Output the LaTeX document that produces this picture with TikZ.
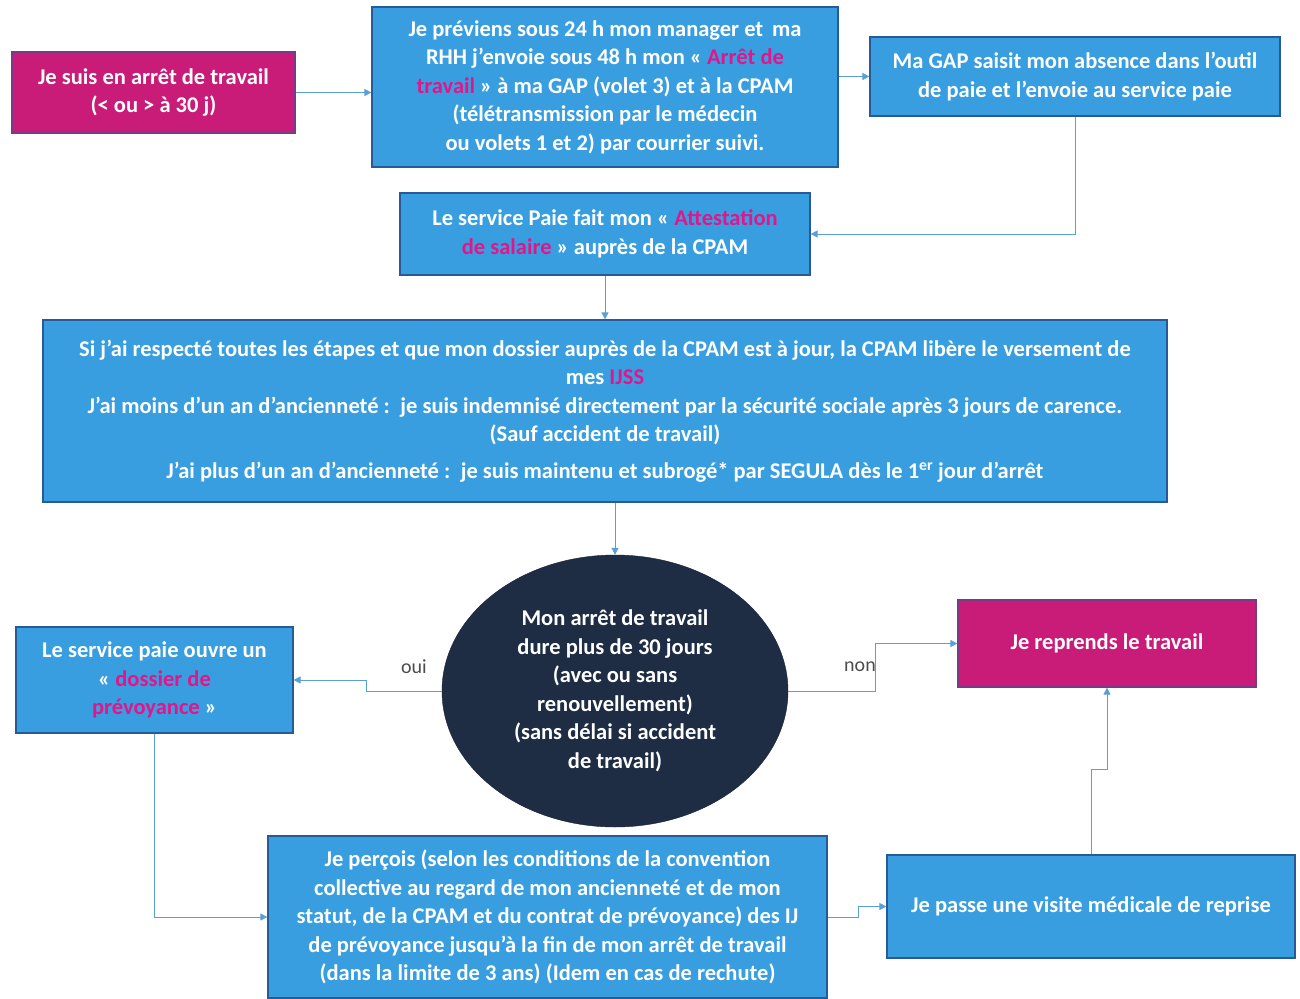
\documentclass[tikz,border=0pt]{standalone}
\usepackage{fontspec}
\setmainfont{Carlito}
\usetikzlibrary{shapes.geometric,arrows.meta}
\definecolor{bfill}{RGB}{56,158,224}
\definecolor{bdraw}{RGB}{40,90,150}
\definecolor{mfill}{RGB}{200,28,120}
\definecolor{pinktxt}{RGB}{226,22,140}
\definecolor{navy}{RGB}{30,44,68}
\definecolor{connc}{RGB}{90,160,215}
\begin{document}
\begin{tikzpicture}[x=1pt,y=-1pt,
 bluebox/.style={draw=bdraw, line width=1.2pt, fill=bfill, text=white, align=center, inner sep=0pt, font=\bfseries\fontsize{22.5}{28.5}\selectfont},
 magbox/.style={bluebox, fill=mfill, draw=bdraw!50!mfill},
 conn/.style={draw=connc, line width=1pt, -{Triangle[length=7pt,width=7pt]}},
 lbl/.style={text=black!70, font=\fontsize{20}{24}\selectfont}]
\useasboundingbox[fill=white] (0,0) rectangle (1300,998);

\node[magbox, minimum width=283pt, minimum height=81pt] (b1) at (153.5,92.5)
 {Je suis en arrêt de travail\\(< ou > à 30 j)};
\node[bluebox, minimum width=466pt, minimum height=160pt] (b2) at (605,87)
 {Je préviens sous 24 h mon manager et\, ma\\RHH j’envoie sous 48 h mon « \textcolor{pinktxt}{Arrêt de}\\\textcolor{pinktxt}{travail} » à ma GAP (volet 3) et à la CPAM\\(télétransmission par le médecin\\ou volets 1 et 2) par courrier suivi.};
\node[bluebox, minimum width=410pt, minimum height=79pt] (b3) at (1075,76.5)
 {Ma GAP saisit mon absence dans l’outil\\de paie et l’envoie au service paie};
\node[bluebox, minimum width=410pt, minimum height=82pt] (b4) at (605,234)
 {Le service Paie fait mon « \textcolor{pinktxt}{Attestation}\\\textcolor{pinktxt}{de salaire} » auprès de la CPAM};
\node[bluebox, minimum width=1124pt, minimum height=182pt] (b5) at (605,411)
 {Si j’ai respecté toutes les étapes et que mon dossier auprès de la CPAM est à jour, la CPAM libère le versement de\\mes \textcolor{pinktxt}{IJSS}\\J’ai moins d’un an d’ancienneté :\, je suis indemnisé directement par la sécurité sociale après 3 jours de carence.\\(Sauf accident de travail)\\[8pt]J’ai plus d’un an d’ancienneté :\, je suis maintenu et subrogé* par SEGULA dès le 1\textsuperscript{er} jour d’arrêt};

\node[ellipse, fill=navy, draw=navy!80!black, text=white, align=center, inner sep=0pt, minimum width=346pt, minimum height=272pt, font=\bfseries\fontsize{22.5}{28.5}\selectfont] (ell) at (615,691)
 {Mon arrêt de travail\\dure plus de 30 jours\\(avec ou sans\\renouvellement)\\(sans délai si accident\\de travail)};

\node[bluebox, minimum width=277pt, minimum height=106pt] (lb) at (154.5,680)
 {Le service paie ouvre un\\« \textcolor{pinktxt}{dossier de}\\\textcolor{pinktxt}{prévoyance} »};
\node[bluebox, minimum width=559pt, minimum height=162pt] (bot) at (547.5,917)
 {Je perçois (selon les conditions de la convention\\collective au regard de mon ancienneté et de mon\\statut, de la CPAM et du contrat de prévoyance) des IJ\\de prévoyance jusqu’à la fin de mon arrêt de travail\\(dans la limite de 3 ans) (Idem en cas de rechute)};
\node[magbox, minimum width=298pt, minimum height=87pt] (rm) at (1107,643.5)
 {Je reprends le travail};
\node[bluebox, minimum width=408pt, minimum height=103pt] (vis) at (1091,906.5)
 {Je passe une visite médicale de reprise};

\draw[conn] (b1.east) -- (b2.west |- b1.east);
\draw[conn] (b2.east |- b3.west) -- (b3.west);
\draw[conn] (b3.south) |- (b4.east);
\draw[conn] (b4.south) -- (b5.north);
\draw[conn] (ell.north |- b5.south) -- (ell.north);
\draw[conn] (ell.west) -- ++(-75,0) |- (lb.east);
\node[lbl] (oui) at (414,667) {oui};
\draw[conn] (ell.east) -- ++(87,0) |- (rm.west);
\node[lbl] (non) at (860,667) {non};
\draw[conn] (lb.south) |- (bot.west);
\draw[conn] (bot.east) -- ++(31,0) |- (vis.west);
\draw[conn] (vis.north) -- ++(0,-85) -| (rm.south);
\end{tikzpicture}
\end{document}
